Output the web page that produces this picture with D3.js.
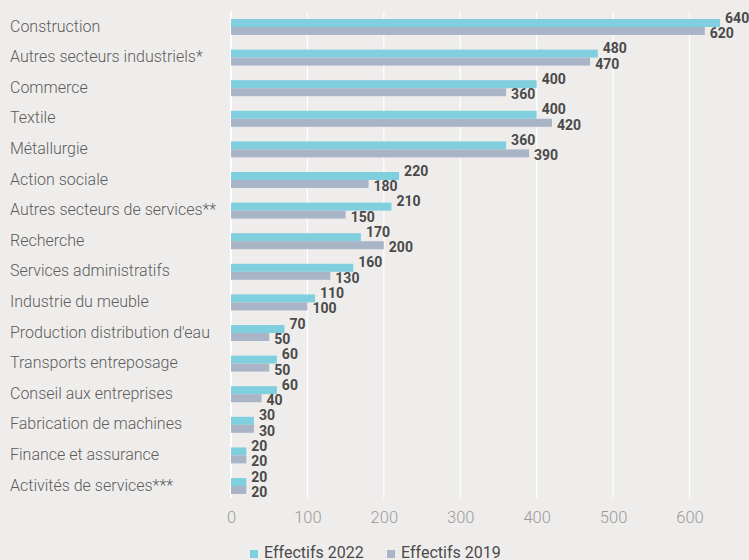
<!DOCTYPE html>
<html>
<head>
<meta charset="utf-8">
<script src="https://cdn.jsdelivr.net/npm/d3@7"></script>
<style>
  html, body { margin: 0; padding: 0; background: #efedeb; }
  svg { display: block; }
</style>
</head>
<body>
<svg id="chart" width="749" height="560"></svg>
<script>
const categories = [
  "Construction",
  "Autres secteurs industriels*",
  "Commerce",
  "Textile",
  "Métallurgie",
  "Action sociale",
  "Autres secteurs de services**",
  "Recherche",
  "Services administratifs",
  "Industrie du meuble",
  "Production distribution d'eau",
  "Transports entreposage",
  "Conseil aux entreprises",
  "Fabrication de machines",
  "Finance et assurance",
  "Activités de services***"
];
const effectifs2022 = [640, 480, 400, 400, 360, 220, 210, 170, 160, 110, 70, 60, 60, 30, 20, 20];
const effectifs2019 = [620, 470, 360, 420, 390, 180, 150, 200, 130, 100, 50, 50, 40, 30, 20, 20];
const seriesNames = ["Effectifs 2022", "Effectifs 2019"];
const xTicks = [0, 100, 200, 300, 400, 500, 600];

const colors = ["#80cfde", "#a9b4c7"];
const svg = d3.select("#chart");

const x = d3.scaleLinear().domain([0, 600]).range([231, 689.5]);
const y = d3.scaleBand().domain(categories).range([19, 494]).paddingInner(0.477).paddingOuter(0);
const sub = d3.scaleBand().domain([0, 1]).range([0, y.bandwidth()]).padding(0);

const gridTop = 12, gridBottom = 498;

// gridlines
svg.append("g").selectAll("line").data(xTicks).join("line")
  .attr("x1", d => x(d)).attr("x2", d => x(d))
  .attr("y1", gridTop).attr("y2", gridBottom)
  .attr("stroke", "#ffffff").attr("stroke-width", d => d === 0 ? 2 : 1.2);

// axis tick labels
const axis = d3.axisBottom(x).tickValues(xTicks).tickSize(0).tickPadding(0).tickFormat(d3.format("d"));
const ax = svg.append("g").attr("transform", "translate(0,511)").call(axis);
ax.select(".domain").remove();
ax.selectAll("text")
  .attr("fill", "#9a9a9a")
  .attr("font-family", "Roboto, sans-serif")
  .attr("font-weight", 300)
  .attr("font-size", "16.5px")
  .attr("dy", "0.71em");

// category labels
svg.append("g").selectAll("text").data(categories).join("text")
  .attr("x", 10)
  .attr("y", d => y(d) + y.bandwidth() / 2 - 1)
  .attr("dy", "0.35em")
  .attr("fill", "#5c5c5c")
  .attr("font-family", "Roboto, sans-serif")
  .attr("font-weight", 300)
  .attr("font-size", "16px")
  .text(d => d);

const rows = categories.map((c, i) => ({ c, vals: [effectifs2022[i], effectifs2019[i]] }));

const g = svg.append("g").selectAll("g").data(rows).join("g")
  .attr("transform", d => `translate(0,${y(d.c)})`);

g.selectAll("rect").data(d => d.vals.map((v, k) => ({ v, k }))).join("rect")
  .attr("x", x(0))
  .attr("y", d => sub(d.k))
  .attr("width", d => x(d.v) - x(0))
  .attr("height", sub.bandwidth())
  .attr("fill", d => colors[d.k]);

g.selectAll("text").data(d => d.vals.map((v, k) => ({ v, k }))).join("text")
  .attr("x", d => x(d.v) + 5)
  .attr("y", d => d.k === 0 ? sub(0) - 1.5 : sub(1) + sub.bandwidth() / 2 + 2)
  .attr("dy", "0.36em")
  .attr("fill", "#4a4a4a")
  .attr("font-family", "Roboto, sans-serif")
  .attr("font-weight", 700)
  .attr("font-size", "14px")
  .text(d => d.v);

// legend
const legendX = [250, 387];
const lg = svg.append("g").selectAll("g").data(seriesNames).join("g")
  .attr("transform", (d, i) => `translate(${legendX[i]},0)`);
lg.append("rect").attr("x", 0).attr("y", 550).attr("width", 8).attr("height", 8)
  .attr("fill", (d, i) => colors[i]);
lg.append("text").attr("x", 14).attr("y", 557.5)
  .attr("fill", "#4a4a4a")
  .attr("font-family", "Roboto, sans-serif")
  .attr("font-weight", 400)
  .attr("font-size", "16px")
  .text(d => d);
</script>
</body>
</html>
